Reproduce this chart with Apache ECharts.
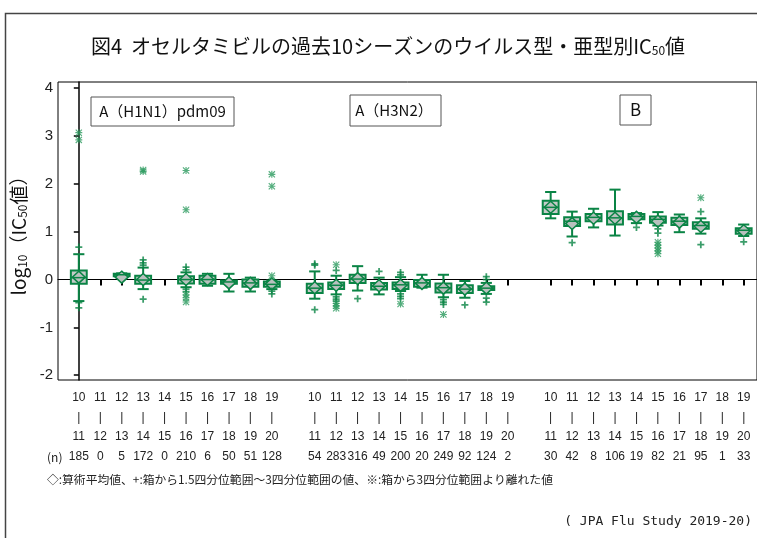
<!DOCTYPE html>
<html><head><meta charset="utf-8">
<script src="https://cdn.jsdelivr.net/npm/echarts@6/dist/echarts.min.js"></script>
<style>html,body{margin:0;padding:0;background:#fff}#c{width:757px;height:538px}</style>
</head><body><div id="c"></div>
<script>
// ---- data ----
const seasonFrom = ['10','11','12','13','14','15','16','17','18','19'];
const seasonTo   = ['11','12','13','14','15','16','17','18','19','20'];
const groupNames = ['A（H1N1）pdm09', 'A（H3N2）', 'B'];
const nH1N1 = [185, 0, 5, 172, 0, 210, 6, 50, 51, 128];
const nH3N2 = [54, 283, 316, 49, 200, 20, 249, 92, 124, 2];
const nB    = [30, 42, 8, 106, 19, 82, 21, 95, 1, 33];
// box stats [min(whisker), Q1, median, Q3, max(whisker)]
const boxH1N1 = [[-0.45,-0.09,0.04,0.19,0.53], null, [0.05,0.07,0.10,0.12,0.13], [-0.20,-0.09,-0.01,0.08,0.25], null,
                 [-0.16,-0.08,0.00,0.07,0.15], [-0.13,-0.09,0.00,0.08,0.12], [-0.25,-0.09,-0.05,-0.02,0.12],
                 [-0.25,-0.15,-0.07,0.00,0.04], [-0.20,-0.15,-0.10,-0.04,-0.02]];
const meanH1N1 = [0.05, null, 0.05, 0.00, null, 0.00, 0.00, -0.07, -0.08, -0.09];
const boxH3N2 = [[-0.40,-0.28,-0.18,-0.09,0.17], [-0.31,-0.20,-0.12,-0.06,0.08], [-0.23,-0.07,0.01,0.10,0.28],
                 [-0.31,-0.21,-0.14,-0.07,0.04], [-0.24,-0.20,-0.11,-0.06,0.05], [-0.17,-0.15,-0.07,-0.01,0.10],
                 [-0.37,-0.27,-0.17,-0.08,0.10], [-0.38,-0.28,-0.20,-0.12,-0.03], [-0.30,-0.22,-0.18,-0.14,-0.07], null];
const meanH3N2 = [-0.17, -0.12, 0.02, -0.13, -0.12, -0.08, -0.18, -0.20, -0.18, null];
const boxB = [[1.28,1.37,1.51,1.65,1.83], [0.90,1.12,1.22,1.30,1.42], [1.09,1.22,1.30,1.37,1.48],
              [0.92,1.15,1.29,1.43,1.88], [1.18,1.26,1.32,1.37,1.39], [1.13,1.19,1.26,1.32,1.41],
              [0.99,1.14,1.22,1.29,1.36], [0.96,1.06,1.13,1.20,1.28], null, [0.91,0.96,1.03,1.07,1.15]];
const meanB = [1.51, 1.17, 1.28, 1.28, 1.30, 1.22, 1.20, 1.11, null, 1.02];
// outliers: [season index, value]
const plusH1N1 = [[0,0.68],[0,-0.48],[0,-0.59],[3,0.41],[3,0.35],[3,0.30],[3,-0.41],[5,0.26],[5,0.20],[5,-0.20],[5,-0.25],[9,-0.24],[9,-0.30]];
const starH1N1 = [[0,3.07],[0,2.92],[3,2.29],[3,2.26],[5,2.28],[5,1.46],[5,-0.32],[5,-0.38],[5,-0.47],[9,2.20],[9,1.95],[9,0.08]];
const plusH3N2 = [[0,0.33],[0,0.30],[0,-0.63],[1,0.19],[1,-0.36],[1,-0.41],[1,-0.45],[2,-0.40],[3,0.17],[4,0.15],[4,0.10],[4,-0.30],[4,-0.35],[4,-0.40],
                  [6,-0.42],[6,-0.47],[6,-0.52],[7,-0.53],[8,0.06],[8,0.00],[8,-0.39],[8,-0.47]];
const starH3N2 = [[1,0.31],[1,-0.50],[1,-0.55],[1,-0.60],[4,-0.51],[6,-0.73]];
const plusB = [[1,0.77],[4,1.09],[5,1.06],[5,0.97],[7,1.42],[7,0.73],[9,0.79]];
const starB = [[5,0.78],[5,0.72],[5,0.66],[5,0.60],[5,0.54],[7,1.71]];
const yTicks = [-2,-1,0,1,2,3,4];

// ---- build ----
const GREEN = '#0a8445';
const groups = [
  {box: boxH1N1, mean: meanH1N1, n: nH1N1, plus: plusH1N1, star: starH1N1},
  {box: boxH3N2, mean: meanH3N2, n: nH3N2, plus: plusH3N2, star: starH3N2},
  {box: boxB,    mean: meanB,    n: nB,    plus: plusB,    star: starB}
];
const posOf = (g, i) => g * 11 + i;
const boxData = [], plusData = [], starData = [], labelMap = {}, tickPos = [];
groups.forEach((G, g) => {
  for (let i = 0; i < 10; i++) {
    const p = posOf(g, i);
    tickPos.push(p);
    labelMap[p] = seasonFrom[i] + '\n|\n' + seasonTo[i] + '\n' + G.n[i];
    if (G.box[i]) boxData.push([p].concat(G.box[i], [G.mean[i]]));
  }
  G.plus.forEach(d => plusData.push([posOf(g, d[0]), d[1]]));
  G.star.forEach(d => starData.push([posOf(g, d[0]), d[1]]));
});

const plusPath = 'path://M3,0L5,0L5,3L8,3L8,5L5,5L5,8L3,8L3,5L0,5L0,3L3,3Z';
const starPath = 'path://M8.5,1L11.5,1L11.5,19L8.5,19Z M1,8.5L19,8.5L19,11.5L1,11.5Z ' +
  'M3.06,0.94L19.06,16.94L16.94,19.06L0.94,3.06Z M16.94,0.94L19.06,3.06L3.06,19.06L0.94,16.94Z';

function renderBox(params, api) {
  const x = api.value(0);
  const pMin = api.coord([x, api.value(1)]);
  const pQ1 = api.coord([x, api.value(2)]);
  const pMed = api.coord([x, api.value(3)]);
  const pQ3 = api.coord([x, api.value(4)]);
  const pMax = api.coord([x, api.value(5)]);
  const pMean = api.coord([x, api.value(6)]);
  const w = api.size([1, 0])[0];
  const cx = pMed[0], bw = w * 0.74, cw = w * 0.52, dw = w * 0.3, dh = 6;
  const ls = {stroke: GREEN, lineWidth: 2, fill: null};
  return {
    type: 'group',
    children: [
      {type: 'line', shape: {x1: cx, y1: pQ3[1], x2: cx, y2: pMax[1]}, style: ls},
      {type: 'line', shape: {x1: cx - cw/2, y1: pMax[1], x2: cx + cw/2, y2: pMax[1]}, style: ls},
      {type: 'line', shape: {x1: cx, y1: pQ1[1], x2: cx, y2: pMin[1]}, style: ls},
      {type: 'line', shape: {x1: cx - cw/2, y1: pMin[1], x2: cx + cw/2, y2: pMin[1]}, style: ls},
      {type: 'rect', shape: {x: cx - bw/2, y: pQ3[1], width: bw, height: Math.max(1, pQ1[1] - pQ3[1])},
        style: {fill: '#c4cbc8', stroke: GREEN, lineWidth: 2}},
      {type: 'polygon', shape: {points: [[cx, pMean[1]-dh],[cx+dw, pMean[1]],[cx, pMean[1]+dh],[cx-dw, pMean[1]]]},
        style: {fill: '#b8c1be', stroke: GREEN, lineWidth: 1.5}},
      {type: 'line', shape: {x1: cx - bw/2, y1: pMed[1], x2: cx + bw/2, y2: pMed[1]}, style: {stroke: GREEN, lineWidth: 1.5}}
    ]
  };
}

const chart = echarts.init(document.getElementById('c'), null, {renderer: 'canvas'});
const textFont = '"Noto Sans CJK JP", "Noto Sans", sans-serif';
chart.setOption({
  animation: false,
  backgroundColor: '#fff',
  grid: {left: 58, top: 82, right: -5, bottom: 158, show: true, borderColor: '#000', borderWidth: 1},
  xAxis: {
    type: 'value', min: -0.97, max: 31.62,
    axisLine: {show: true, lineStyle: {color: '#000', width: 1}},
    splitLine: {show: false},
    axisTick: {show: true, customValues: tickPos, length: 6, lineStyle: {color: '#000', width: 2}},
    axisLabel: {
      customValues: tickPos, margin: 8, color: '#222', fontSize: 12, lineHeight: 19.5,
      fontFamily: 'Arial, "Liberation Sans", sans-serif',
      formatter: v => labelMap[Math.round(v)] || ''
    }
  },
  yAxis: {
    type: 'value', min: -2.1, max: 4.13,
    axisLine: {show: true, lineStyle: {color: '#000', width: 1.5}},
    splitLine: {show: false},
    axisTick: {show: true, customValues: yTicks, length: 5, lineStyle: {color: '#000', width: 1.5}},
    axisLabel: {customValues: yTicks, margin: 5, color: '#222', fontSize: 15, fontFamily: 'Arial, "Liberation Sans", sans-serif'},
    name: 'log{s|10}（IC{s|50}値）', nameLocation: 'middle', nameGap: 27, nameRotate: 90,
    nameTextStyle: {fontSize: 19, color: '#111', fontFamily: textFont, rich: {s: {fontSize: 12, padding: [6, 0, 0, 0], fontFamily: textFont}}}
  },
  series: [
    {type: 'custom', renderItem: renderBox, data: boxData, encode: {x: 0, y: [1,2,3,4,5,6]}, z: 3},
    {type: 'scatter', data: plusData, symbol: plusPath, symbolSize: 7, itemStyle: {color: GREEN}, z: 4},
    {type: 'scatter', data: starData, symbol: starPath, symbolSize: 7, itemStyle: {color: '#2a9a5e'}, z: 4}
  ],
  graphic: [
    {type: 'polyline', shape: {points: [[5.5, 538], [5.5, 13.5], [757, 13.5]]}, style: {stroke: '#444', lineWidth: 1.5, fill: null}},
    {type: 'text', x: 388, y: 46, style: {text: '図4  オセルタミビルの過去10シーズンのウイルス型・亜型別IC{s|50}値',
      rich: {s: {fontSize: 12, padding: [8, 0, 0, 0], fontFamily: textFont}},
      font: '20px ' + textFont, fill: '#111', align: 'center', verticalAlign: 'middle'}},
    {type: 'rect', shape: {x: 91, y: 97, width: 143, height: 29}, style: {fill: '#fff', stroke: '#555', lineWidth: 1}, z: 10},
    {type: 'text', x: 162.5, y: 111.5, style: {text: groupNames[0], font: '15px ' + textFont, fill: '#111', align: 'center', verticalAlign: 'middle'}, z: 11},
    {type: 'rect', shape: {x: 350, y: 95, width: 91, height: 31}, style: {fill: '#fff', stroke: '#555', lineWidth: 1}, z: 10},
    {type: 'text', x: 394, y: 110.5, style: {text: groupNames[1], font: '15px ' + textFont, fill: '#111', align: 'center', verticalAlign: 'middle'}, z: 11},
    {type: 'rect', shape: {x: 620, y: 95, width: 31, height: 30}, style: {fill: '#fff', stroke: '#555', lineWidth: 1}, z: 10},
    {type: 'text', x: 635.5, y: 110, style: {text: groupNames[2], font: '17px ' + textFont, fill: '#111', align: 'center', verticalAlign: 'middle'}, z: 11},
    {type: 'text', x: 47, y: 457, style: {text: '(n)', font: '12px ' + textFont, fill: '#222', align: 'left', verticalAlign: 'middle'}},
    {type: 'text', x: 47, y: 480, style: {text: '◇:算術平均値、+:箱から1.5四分位範囲〜3四分位範囲の値、※:箱から3四分位範囲より離れた値',
      font: '11.8px ' + textFont, fill: '#222', align: 'left', verticalAlign: 'middle'}},
    {type: 'text', x: 752, y: 522, style: {text: '( JPA Flu Study 2019-20)', font: '13px "DejaVu Sans Mono", monospace', fill: '#222', align: 'right', verticalAlign: 'middle'}}
  ]
});
</script></body></html>
